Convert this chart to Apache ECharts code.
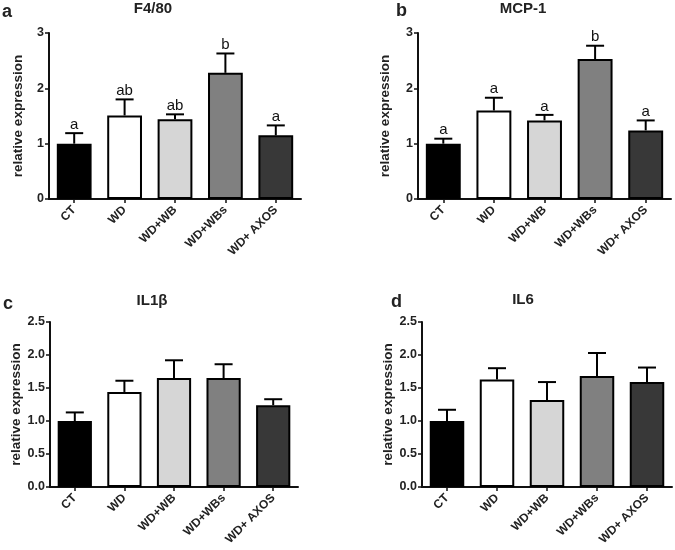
<!DOCTYPE html>
<html><head><meta charset="utf-8">
<script src="https://cdn.jsdelivr.net/npm/echarts@6/dist/echarts.min.js"></script>
<style>html,body{margin:0;padding:0;background:#fff}#c{width:675px;height:550px}</style>
</head><body><div id="c"></div>
<script>
const categories = ['CT', 'WD', 'WD+WB', 'WD+WBs', 'WD+ AXOS'];
const barColors = ['#000000', '#ffffff', '#d6d6d6', '#808080', '#383838'];

const f480Mean = [1.00, 1.51, 1.44, 2.28, 1.15];
const f480Sem  = [0.19, 0.29, 0.09, 0.35, 0.18];
const f480Letters = ['a', 'ab', 'ab', 'b', 'a'];

const mcp1Mean = [1.00, 1.60, 1.42, 2.53, 1.24];
const mcp1Sem  = [0.09, 0.23, 0.10, 0.24, 0.18];
const mcp1Letters = ['a', 'a', 'a', 'b', 'a'];

const il1bMean = [1.00, 1.44, 1.65, 1.65, 1.24];
const il1bSem  = [0.13, 0.17, 0.27, 0.21, 0.09];

const il6Mean = [1.00, 1.63, 1.32, 1.68, 1.59];
const il6Sem  = [0.17, 0.17, 0.27, 0.35, 0.22];

const yTicksTop = ['0', '1', '2', '3'];
const yTicksBottom = ['0.0', '0.5', '1.0', '1.5', '2.0', '2.5'];

const panels = [
  {title: 'F4/80', letter: 'a', mean: f480Mean, sem: f480Sem, letters: f480Letters, ticks: yTicksTop, max: 3, interval: 1,
   grid: {left: 49, top: 33, width: 252, height: 166}, tx: 153, ty: 1, lx: 2, ly: 3},
  {title: 'MCP-1', letter: 'b', mean: mcp1Mean, sem: mcp1Sem, letters: mcp1Letters, ticks: yTicksTop, max: 3, interval: 1,
   grid: {left: 418, top: 33, width: 253, height: 166}, tx: 523, ty: 1, lx: 396, ly: 2},
  {title: 'IL1β', letter: 'c', mean: il1bMean, sem: il1bSem, letters: null, ticks: yTicksBottom, max: 2.5, interval: 0.5,
   grid: {left: 50, top: 322, width: 248, height: 165}, tx: 152, ty: 293, lx: 3, ly: 295},
  {title: 'IL6', letter: 'd', mean: il6Mean, sem: il6Sem, letters: null, ticks: yTicksBottom, max: 2.5, interval: 0.5,
   grid: {left: 422, top: 322, width: 250, height: 165}, tx: 523, ty: 292, lx: 391, ly: 293}
];

const FONT = 'Liberation Sans';
const option = {animation: false, backgroundColor: '#fff', title: [], grid: [], xAxis: [], yAxis: [], series: []};

panels.forEach((p, k) => {
  option.title.push({text: p.title, left: p.tx, top: p.ty, textAlign: 'center', padding: 0,
    textStyle: {fontFamily: FONT, fontWeight: 'bold', fontSize: 15, color: '#222'}});
  option.title.push({text: p.letter, left: p.lx, top: p.ly, padding: 0,
    textStyle: {fontFamily: FONT, fontWeight: 'bold', fontSize: 18, color: '#222'}});
  option.grid.push(Object.assign({containLabel: false}, p.grid));
  option.xAxis.push({type: 'category', gridIndex: k, data: categories,
    axisLine: {lineStyle: {color: '#111', width: 2}},
    axisTick: {show: true, alignWithLabel: true, length: 4, lineStyle: {color: '#111', width: 1.5}},
    axisLabel: {rotate: 45, margin: 9, interval: 0, fontFamily: FONT, fontWeight: 'bold', fontSize: 12, color: '#222'}});
  option.yAxis.push({type: 'value', gridIndex: k, min: 0, max: p.max, interval: p.interval,
    name: 'relative expression', nameLocation: 'middle', nameGap: k % 2 === 0 ? 24 : 26,
    nameTextStyle: {fontFamily: FONT, fontWeight: 'bold', fontSize: 13.5, color: '#222'},
    axisLine: {show: true, lineStyle: {color: '#111', width: 2}},
    axisTick: {show: true, length: 4, lineStyle: {color: '#111', width: 1.5}},
    splitLine: {show: false},
    axisLabel: {margin: 5, fontFamily: FONT, fontWeight: 'bold', fontSize: 12.5, color: '#222',
      formatter: (v) => p.ticks[Math.round(v / p.interval)]}});
  option.series.push({type: 'bar', xAxisIndex: k, yAxisIndex: k, barWidth: '69%',
    data: p.mean.map((v, i) => ({value: v, itemStyle: {color: barColors[i], borderColor: '#000', borderWidth: 2}})),
    z: 2});
  option.series.push({type: 'custom', xAxisIndex: k, yAxisIndex: k, z: 3,
    data: p.mean.map((v, i) => [i, v, v + p.sem[i]]),
    renderItem: function (params, api) {
      const i = api.value(0);
      const base = api.coord([i, api.value(1)]);
      const top = api.coord([i, api.value(2)]);
      const half = 9;
      const children = [
        {type: 'line', shape: {x1: base[0], y1: base[1], x2: top[0], y2: top[1]}, style: {stroke: '#000', lineWidth: 2}},
        {type: 'line', shape: {x1: top[0] - half, y1: top[1], x2: top[0] + half, y2: top[1]}, style: {stroke: '#000', lineWidth: 2}}
      ];
      if (p.letters) {
        children.push({type: 'text', style: {text: p.letters[params.dataIndex], x: top[0], y: top[1] - 1,
          align: 'center', verticalAlign: 'bottom', font: '15px "Liberation Sans"', fill: '#111'}});
      }
      return {type: 'group', children: children};
    }});
});

const chart = echarts.init(document.getElementById('c'), null, {renderer: 'canvas'});
chart.setOption(option);
</script></body></html>
